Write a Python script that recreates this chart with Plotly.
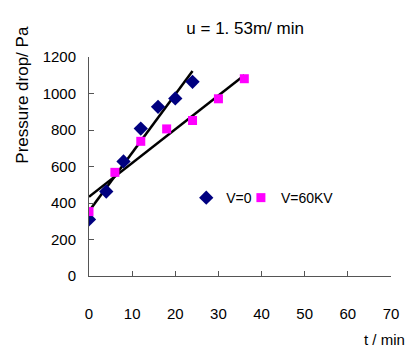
import numpy as np
import plotly.graph_objects as go

# Data
t_v0 = [0, 4, 8, 12, 16, 20, 24]
dp_v0 = [310, 463, 628, 808, 927, 973, 1064]
t_v60 = [0, 6, 12, 18, 24, 30, 36]
dp_v60 = [353, 568, 738, 806, 852, 971, 1081]

x_ticks = [0, 10, 20, 30, 40, 50, 60, 70]
y_ticks = [0, 200, 400, 600, 800, 1000, 1200]

FONT = "Liberation Sans Narrow, Arial Narrow, Liberation Sans, Arial, sans-serif"

fig = go.Figure()

# linear trend lines (least squares fits of each series)
for xs, ys in [(t_v0, dp_v0), (t_v60, dp_v60)]:
    k, b = np.polyfit(xs, ys, 1)
    xl = [min(xs), max(xs)]
    fig.add_trace(go.Scatter(x=xl, y=[k * v + b for v in xl], mode="lines",
                             line=dict(color="black", width=2.5),
                             showlegend=False, hoverinfo="skip"))

fig.add_trace(go.Scatter(x=t_v0, y=dp_v0, mode="markers", name="V=0", legend="legend",
                         marker=dict(symbol="diamond", size=11, color="#000080")))
fig.add_trace(go.Scatter(x=t_v60, y=dp_v60, mode="markers", name="V=60KV", legend="legend2",
                         marker=dict(symbol="square", size=9, color="#FF00FF")))

leg_common = dict(orientation="h", y=0.356, xanchor="left", yanchor="middle",
                  bgcolor="rgba(0,0,0,0)", font=dict(family=FONT, size=14),
                  itemwidth=30)

fig.update_layout(
    width=414, height=350,
    margin=dict(l=89, r=23, t=57, b=74),
    paper_bgcolor="white", plot_bgcolor="white",
    font=dict(family=FONT, size=15, color="black"),
    title=dict(text="u = 1. 53m/ min", x=0.517, xref="paper", y=1 - 28 / 350,
               yanchor="middle", xanchor="center",
               font=dict(family=FONT, size=17, color="black")),
    legend=dict(x=0.322, **leg_common),
    legend2=dict(x=0.503, **leg_common),
    showlegend=True,
)

fig.update_xaxes(range=[0, 70], tickvals=x_ticks, showgrid=False, zeroline=False,
                 showline=True, linecolor="#555555", linewidth=1,
                 ticks="inside", ticklen=5, tickcolor="#555555",
                 ticklabelstandoff=24, tickfont=dict(family=FONT, size=15))
fig.update_yaxes(range=[0, 1200], tickvals=y_ticks, showgrid=False, zeroline=False,
                 showline=True, linecolor="#555555", linewidth=1,
                 ticks="inside", ticklen=5, tickcolor="#555555",
                 ticklabelstandoff=9, tickfont=dict(family=FONT, size=15))

fig.add_annotation(text="Pressure drop/ Pa", xref="paper", yref="paper",
                   x=-0.22, y=0.826, textangle=-90, showarrow=False,
                   xanchor="center", yanchor="middle",
                   font=dict(family=FONT, size=17))
fig.add_annotation(text="t / min", xref="paper", yref="paper",
                   x=0.98, y=-0.29, showarrow=False,
                   xanchor="center", yanchor="middle",
                   font=dict(family=FONT, size=15))

fig.write_html("out.html")
